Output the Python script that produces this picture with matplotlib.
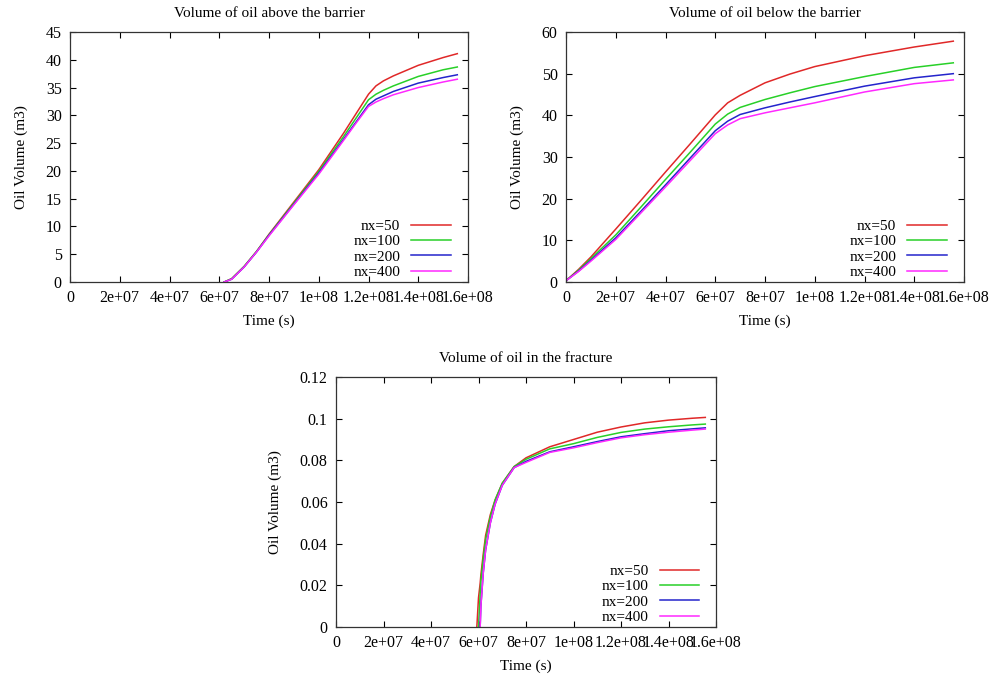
import matplotlib
matplotlib.use("Agg")
import matplotlib.pyplot as plt
import numpy as np

plt.rcParams['font.family'] = ['Liberation Serif', 'DejaVu Serif']
plt.rcParams['font.size'] = 11

nan = np.nan

# ---------------- data ----------------
series_labels = ['nx=50', 'nx=100', 'nx=200', 'nx=400']
series_colors = ['#e02828', '#28d028', '#2424cc', '#ff28ff']

x_ticks = [0, 2e7, 4e7, 6e7, 8e7, 1e8, 1.2e8, 1.4e8, 1.6e8]
x_tick_labels = ['0', '2e+07', '4e+07', '6e+07', '8e+07', '1e+08', '1.2e+08', '1.4e+08', '1.6e+08']

# Plot 1: above the barrier (zero before ~6.2e7, hidden by the border)
t_above = [6.2e7, 6.5e7, 7e7, 7.5e7, 8e7, 9e7, 1e8, 1.1e8, 1.15e8, 1.2e8, 1.23e8, 1.26e8, 1.3e8, 1.4e8, 1.5e8, 1.557e8]
above_nx50 = [0, 0.6, 2.8, 5.5, 8.6, 14.4, 20.2, 26.8, 30.3, 33.8, 35.3, 36.2, 37.1, 39.0, 40.4, 41.1]
above_nx100 = [0, 0.6, 2.8, 5.5, 8.5, 14.2, 19.9, 26.2, 29.5, 32.8, 33.8, 34.5, 35.3, 37.0, 38.2, 38.7]
above_nx200 = [0, 0.5, 2.7, 5.4, 8.4, 14.0, 19.6, 25.7, 28.8, 31.9, 32.9, 33.5, 34.3, 35.8, 36.8, 37.3]
above_nx400 = [0, 0.5, 2.7, 5.4, 8.3, 13.9, 19.4, 25.5, 28.6, 31.6, 32.4, 33.0, 33.7, 35.0, 36.0, 36.5]
above_yticks = [0, 5, 10, 15, 20, 25, 30, 35, 40, 45]
above_ytick_labels = ['0', '5', '10', '15', '20', '25', '30', '35', '40', '45']

# Plot 2: below the barrier
t_below = [0, 5e6, 1e7, 2e7, 3e7, 4e7, 5e7, 6e7, 6.5e7, 7e7, 8e7, 9e7, 1e8, 1.2e8, 1.4e8, 1.557e8]
below_nx50 = [0.3, 3.0, 6.0, 12.7, 19.5, 26.4, 33.2, 40.1, 43.0, 44.8, 47.8, 49.9, 51.7, 54.3, 56.4, 57.8]
below_nx100 = [0.3, 2.8, 5.6, 11.3, 17.9, 24.6, 31.2, 37.9, 40.3, 41.9, 43.8, 45.4, 46.9, 49.3, 51.5, 52.6]
below_nx200 = [0.3, 2.6, 5.2, 10.6, 16.9, 23.3, 29.8, 36.3, 38.6, 40.2, 41.8, 43.2, 44.5, 47.0, 49.0, 50.0]
below_nx400 = [0.3, 2.5, 5.0, 10.2, 16.5, 22.8, 29.2, 35.6, 37.7, 39.2, 40.6, 41.8, 43.0, 45.6, 47.6, 48.5]
below_yticks = [0, 10, 20, 30, 40, 50, 60]
below_ytick_labels = ['0', '10', '20', '30', '40', '50', '60']

# Plot 3: in the fracture (zero before the start, hidden by the border)
t_frac = [5.93e7, 6.0e7, 6.07e7, 6.1e7, 6.2e7, 6.3e7, 6.5e7, 6.7e7, 7e7, 7.5e7, 8e7, 9e7, 1e8, 1.1e8, 1.2e8, 1.3e8, 1.4e8, 1.5e8, 1.555e8]
frac_nx50 = [0, 0.014, 0.021, 0.025, 0.035, 0.044, 0.054, 0.061, 0.069, 0.077, 0.0812, 0.0865, 0.0900, 0.0935, 0.0960, 0.0980, 0.0993, 0.1002, 0.1006]
frac_nx100 = [nan, 0, 0.016, 0.022, 0.033, 0.042, 0.053, 0.061, 0.069, 0.077, 0.0805, 0.0855, 0.0880, 0.0910, 0.0934, 0.0950, 0.0961, 0.0970, 0.0974]
frac_nx200 = [nan, nan, 0, 0.010, 0.026, 0.037, 0.050, 0.059, 0.068, 0.0765, 0.0795, 0.0841, 0.0865, 0.0890, 0.0913, 0.0928, 0.0942, 0.0951, 0.0956]
frac_nx400 = [nan, nan, 0, 0.010, 0.026, 0.037, 0.050, 0.059, 0.068, 0.0765, 0.0790, 0.0838, 0.0860, 0.0885, 0.0908, 0.0923, 0.0935, 0.0945, 0.0950]
frac_yticks = [0, 0.02, 0.04, 0.06, 0.08, 0.1, 0.12]
frac_ytick_labels = ['0', '0.02', '0.04', '0.06', '0.08', '0.1', '0.12']

titles = ['Volume of oil above the barrier', 'Volume of oil below the barrier', 'Volume of oil in the fracture']

# ---------------- figure ----------------
W, H = 993, 676
fig = plt.figure(figsize=(W / 100, H / 100), dpi=100)

def rect(l, t, r, b):
    return [l / W, 1 - b / H, (r - l) / W, (b - t) / H]

ax1 = fig.add_axes(rect(70, 32, 468, 282))
ax2 = fig.add_axes(rect(566, 32, 964, 282))
ax3 = fig.add_axes(rect(336, 377, 716, 627))

panels = [
    (ax1, t_above, [above_nx50, above_nx100, above_nx200, above_nx400], above_yticks, above_ytick_labels, titles[0]),
    (ax2, t_below, [below_nx50, below_nx100, below_nx200, below_nx400], below_yticks, below_ytick_labels, titles[1]),
    (ax3, t_frac, [frac_nx50, frac_nx100, frac_nx200, frac_nx400], frac_yticks, frac_ytick_labels, titles[2]),
]

for ax, t, ys, yt, ytl, title in panels:
    for y, lab, col in zip(ys, series_labels, series_colors):
        ax.plot(t, y, color=col, lw=1.1, label=lab, zorder=2)
    ax.set_xlim(x_ticks[0], x_ticks[-1])
    ax.set_ylim(yt[0], yt[-1])
    ax.set_xticks(x_ticks)
    ax.set_xticklabels(x_tick_labels)
    ax.set_yticks(yt)
    ax.set_yticklabels(ytl)
    ax.tick_params(direction='in', length=4, width=0.8, top=True, right=True, pad=6, labelsize=11.5)
    for s in ax.spines.values():
        s.set_linewidth(0.9)
        s.set_color('#333333')
        s.set_zorder(3)
    ax.set_xlabel('Time (s)', labelpad=6, fontsize=11)
    ax.set_ylabel('Oil Volume (m3)', labelpad=13, fontsize=11)
    ax.set_title(title, pad=11, fontsize=11)
    ax.legend(loc='lower right', frameon=False, markerfirst=False, handlelength=2.6,
              handletextpad=0.7, labelspacing=0.1, borderaxespad=0.0,
              bbox_to_anchor=(0.972, -0.012), fontsize=11)

fig.savefig('out.png', dpi=100)
